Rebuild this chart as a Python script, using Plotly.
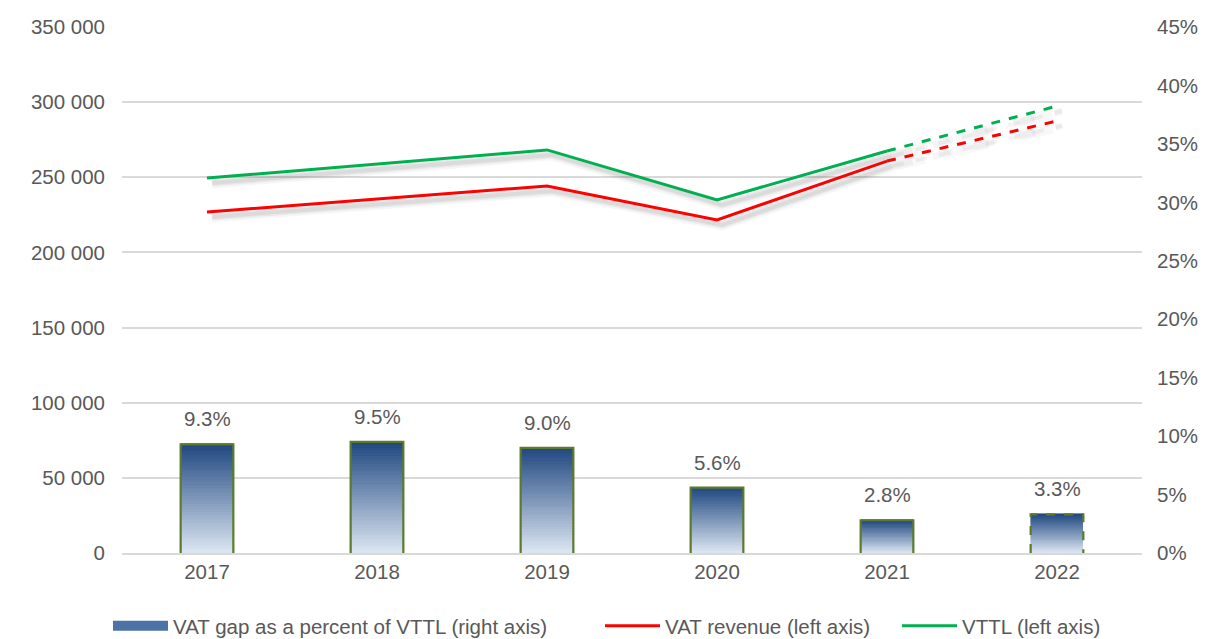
import plotly.graph_objects as go
import numpy as np

years = [2017, 2018, 2019, 2020, 2021, 2022]
vat_gap_pct = [0.093, 0.095, 0.090, 0.056, 0.028, 0.033]
vat_revenue = [226900, 235500, 244200, 221600, 260800, 287500]
vttl = [249500, 259000, 268200, 234900, 267500, 297400]
gap_labels = ["9.3%", "9.5%", "9.0%", "5.6%", "2.8%", "3.3%"]
left_ticks = [0, 50000, 100000, 150000, 200000, 250000, 300000, 350000]
right_ticks = [0, 0.05, 0.10, 0.15, 0.20, 0.25, 0.30, 0.35, 0.40, 0.45]

n_actual = 5  # 2017-2021 actual, 2022 projected
bar_w = 0.31
N = 40
top_c = np.array([0x20, 0x48, 0x80])
bot_c = np.array([0xdd, 0xe7, 0xf3])
grey = "#595959"
font = "Liberation Sans, Arial, sans-serif"
fs = 20.5
FIG_W, FIG_H = 1198, 631

fig = go.Figure()

# gradient bars via stacked segments
for i in range(N):
    t = (i + 0.5) / N
    c = bot_c + (top_c - bot_c) * t
    col = "rgb(%d,%d,%d)" % tuple(c.astype(int))
    fig.add_trace(go.Bar(
        x=years, y=[v / N for v in vat_gap_pct], yaxis="y2", width=bar_w,
        marker=dict(color=col, line=dict(width=0.6, color=col)),
        showlegend=False, hoverinfo="skip"))

# bar outlines
def outline(idx):
    xs, ys = [], []
    for j in idx:
        x0, x1 = years[j] - bar_w / 2, years[j] + bar_w / 2
        v = vat_gap_pct[j]
        xs += [x0, x0, x1, x1, None]
        ys += [0, v, v, 0, None]
    return xs, ys

ox, oy = outline(range(n_actual))
fig.add_trace(go.Scatter(x=ox, y=oy, yaxis="y2", mode="lines",
                         line=dict(color="#5b7a2d", width=2.2),
                         showlegend=False, hoverinfo="skip"))
ox, oy = outline([5])
fig.add_trace(go.Scatter(x=ox, y=oy, yaxis="y2", mode="lines",
                         line=dict(color="#5b7a2d", width=2.2, dash="dash"),
                         showlegend=False, hoverinfo="skip"))

# legend entry for bars (wide rectangle look)
fig.add_trace(go.Scatter(x=[None], y=[None], yaxis="y2", mode="lines",
                         name="VAT gap as a percent of VTTL (right axis)",
                         line=dict(color="#4d72a6", width=10), legend="legend"))

# soft shadows
shadow_off = 3300
for series in (vat_revenue, vttl):
    sy = [v - shadow_off for v in series]
    sx = [y + 0.03 for y in years]
    for w, a in ((11, 0.035), (7, 0.05), (4, 0.06)):
        fig.add_trace(go.Scatter(x=sx[:n_actual], y=sy[:n_actual], mode="lines",
                                 line=dict(color="rgba(0,0,0,%.3f)" % a, width=w),
                                 showlegend=False, hoverinfo="skip"))
        fig.add_trace(go.Scatter(x=sx[n_actual - 1:], y=sy[n_actual - 1:], mode="lines",
                                 line=dict(color="rgba(0,0,0,%.3f)" % (a * 0.8), width=w, dash="dash"),
                                 showlegend=False, hoverinfo="skip"))

# lines
for series, name, col, lg in ((vat_revenue, "VAT revenue (left axis)", "#ff0000", "legend2"),
                              (vttl, "VTTL (left axis)", "#00b050", "legend3")):
    fig.add_trace(go.Scatter(x=years[:n_actual], y=series[:n_actual], mode="lines",
                             name=name, line=dict(color=col, width=3), legend=lg))
    fig.add_trace(go.Scatter(x=years[n_actual - 1:], y=series[n_actual - 1:], mode="lines",
                             line=dict(color=col, width=3, dash="dash"),
                             showlegend=False))

annotations = [dict(x=y, y=v, yref="y2", xref="x", text=lab, showarrow=False,
                    yanchor="bottom", yshift=12, font=dict(size=fs, color=grey, family=font))
               for y, v, lab in zip(years, vat_gap_pct, gap_labels)]

def leg(px_left):
    return dict(orientation="h", x=px_left / FIG_W, xanchor="left", xref="container",
                y=0.0206, yanchor="middle", yref="container", itemwidth=55,
                font=dict(size=fs, color=grey), bgcolor="rgba(0,0,0,0)")

# page body has an 8px default margin; figure is sized to fit the 1206x639 window
fig.update_layout(
    width=FIG_W, height=FIG_H,
    margin=dict(l=114, r=64, t=19, b=86),
    paper_bgcolor="white", plot_bgcolor="white",
    barmode="stack", bargap=0,
    separators=". ",
    font=dict(family=font, size=fs, color=grey),
    xaxis=dict(range=[2016.5, 2022.5], tickvals=years, ticktext=[str(y) for y in years],
               showgrid=False, showline=True, linecolor="#d9d9d9", linewidth=1.5,
               ticks="", zeroline=False, automargin=False,
               tickfont=dict(size=fs, color=grey)),
    yaxis=dict(range=[0, 350000], tickvals=left_ticks, tickformat=",d",
               showgrid=True, gridcolor="#d9d9d9", gridwidth=1.5, zeroline=False,
               showline=False, ticks="", automargin=False, ticklabelstandoff=16,
               tickfont=dict(size=fs, color=grey)),
    yaxis2=dict(range=[0, 0.45], tickvals=right_ticks, tickformat=".0%",
                overlaying="y", side="right", showgrid=False, zeroline=False,
                showline=False, ticks="", automargin=False, ticklabelstandoff=14,
                tickfont=dict(size=fs, color=grey)),
    legend=leg(100),
    legend2=leg(592),
    legend3=leg(889),
    annotations=annotations,
    showlegend=True,
)

fig.write_html("out.html")
